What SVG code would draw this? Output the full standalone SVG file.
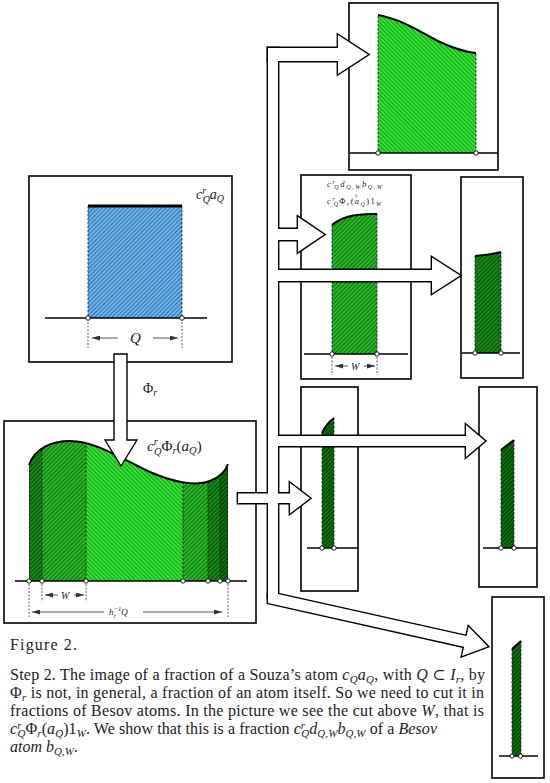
<svg xmlns="http://www.w3.org/2000/svg" width="550" height="783" viewBox="0 0 550 783">
<defs>
<style>
.box{fill:#fff;stroke:#000;stroke-width:1.6}
.base{stroke:#000;stroke-width:1.4;fill:none}
.pt{fill:#fff;stroke:#000;stroke-width:0.9}
.dash{stroke:#1a1a1a;stroke-width:0.8;stroke-dasharray:2.5 1.5;fill:none}
.cap{fill:none;stroke:#000;stroke-width:2}
.dim{stroke:#444;stroke-width:0.9;fill:none;marker-end:url(#ah)}
.vd{stroke:#333;stroke-width:0.8;stroke-dasharray:2 1.5;fill:none}
.tx{font-family:"Liberation Serif","DejaVu Serif",serif;fill:#222}
.it{font-style:italic}
.pipe-s{fill:none;stroke:#000;stroke-width:2.8;stroke-linejoin:miter}
.pipe-f{fill:#fff;stroke:none}
.arr{fill:#fff;stroke:#000;stroke-width:1.4}
</style>
<pattern id="pB" width="3" height="3" patternUnits="userSpaceOnUse" patternTransform="rotate(-45)"><rect width="3" height="3" fill="#30e430"/><line x1="0.5" y1="0" x2="0.5" y2="3" stroke="#1e9a1e" stroke-width="1"/></pattern>
<pattern id="pM" width="3" height="3" patternUnits="userSpaceOnUse" patternTransform="rotate(45)"><rect width="3" height="3" fill="#28b828"/><line x1="0.5" y1="0" x2="0.5" y2="3" stroke="#146c14" stroke-width="1"/></pattern>
<pattern id="pD" width="3" height="3" patternUnits="userSpaceOnUse" patternTransform="rotate(45)"><rect width="3" height="3" fill="#168816"/><line x1="0.5" y1="0" x2="0.5" y2="3" stroke="#075007" stroke-width="1"/></pattern>
<pattern id="pX" width="3" height="3" patternUnits="userSpaceOnUse" patternTransform="rotate(45)"><rect width="3" height="3" fill="#0a700a"/><line x1="0.5" y1="0" x2="0.5" y2="3" stroke="#033e03" stroke-width="1"/></pattern>
<pattern id="pBl" width="3" height="3" patternUnits="userSpaceOnUse" patternTransform="rotate(45)"><rect width="3" height="3" fill="#6cb6ec"/><line x1="0.5" y1="0" x2="0.5" y2="3" stroke="#2f6fae" stroke-width="1"/></pattern>
<marker id="ah" markerUnits="userSpaceOnUse" viewBox="0 0 8 5" refX="8" refY="2.5" markerWidth="8" markerHeight="5" orient="auto"><path d="M0,0 L8,2.5 L0,5 Z" fill="#333"/></marker>
<clipPath id="cl1"><path d="M29,581 L29,465 C35,448 52,441 70,441 C95,441 120,458 150,472 C170,481 195,487 210,481 C220,477 226,470 228,464 L228,581 Z"/></clipPath>
<g id="pipeShapes">
<rect x="268" y="48" width="10" height="550"/>
<polygon points="268,48 338,48 338,35 368,54.5 338,74 338,61 268,61"/>
<polygon points="276,229 298,229 298,217 324,234.5 298,252 298,240 276,240"/>
<polygon points="276,270 432,270 432,257.5 460,275.5 432,293.5 432,281 276,281"/>
<polygon points="276,436 466,436 466,425 485,441 466,457 466,446 276,446"/>
<polygon points="238,493.5 290,493.5 290,483 310,498.25 290,513.5 290,503 238,503"/>
<polygon points="278,594 466.5,636 468.6,626.8 487.7,646.4 462,656 464.1,646.8 268,603 268,594"/>
</g>
</defs>
<rect width="550" height="783" fill="#fff"/>

<g id="atom-box">
<rect class="box" x="29" y="176" width="203" height="186"/>
<rect x="88" y="206" width="94" height="112" fill="url(#pBl)"/>
<path class="dash" d="M88,206V318 M182,206V318"/>
<line x1="88" y1="206" x2="182" y2="206" stroke="#000" stroke-width="3"/>
<line class="base" x1="45" y1="318" x2="207" y2="318"/>
<circle class="pt" cx="88" cy="318" r="2.3"/><circle class="pt" cx="182" cy="318" r="2.3"/>
<path class="vd" d="M88,322V348 M182,322V348"/>
<line class="dim" x1="118" y1="338" x2="92" y2="338"/>
<line class="dim" x1="153" y1="338" x2="178" y2="338"/>
<text class="tx it" x="130" y="343" font-size="15">Q</text>
<text class="tx it" x="196" y="199" font-size="14">c<tspan font-size="10" dy="-5.5">r</tspan><tspan font-size="10" dx="-3.5" dy="9">Q</tspan><tspan dy="-3.5">a</tspan><tspan font-size="10" dy="3">Q</tspan></text>
</g>

<g id="image-box">
<rect class="box" x="4" y="421" width="252" height="202"/>
<g clip-path="url(#cl1)">
<rect x="29" y="430" width="13" height="151" fill="url(#pD)"/>
<rect x="42" y="430" width="44" height="151" fill="url(#pM)"/>
<rect x="86" y="430" width="97" height="151" fill="url(#pB)"/>
<rect x="183" y="430" width="25" height="151" fill="url(#pM)"/>
<rect x="208" y="430" width="12" height="151" fill="url(#pD)"/>
<rect x="220" y="430" width="8" height="151" fill="url(#pX)"/>
<path class="dash" d="M29.5,430V581 M42,430V581 M86,430V581 M183,430V581 M208,430V581 M220,430V581 M227.5,430V581"/>
</g>
<path class="cap" d="M29,465 C35,448 52,441 70,441 C95,441 120,458 150,472 C170,481 195,487 210,481 C220,477 226,470 228,464"/>
<line class="base" x1="15" y1="581" x2="247" y2="581"/>
<circle class="pt" cx="29" cy="581" r="2.2"/><circle class="pt" cx="42" cy="581" r="2.2"/><circle class="pt" cx="86" cy="581" r="2.2"/><circle class="pt" cx="183" cy="581" r="2.2"/><circle class="pt" cx="208" cy="581" r="2.2"/><circle class="pt" cx="220" cy="581" r="2.2"/><circle class="pt" cx="228" cy="581" r="2.2"/>
<path class="vd" d="M42,584V602 M86,584V602 M29,584V617 M228,584V617"/>
<line class="dim" x1="58" y1="595" x2="45" y2="595"/>
<line class="dim" x1="74" y1="595" x2="84" y2="595"/>
<text class="tx it" x="61" y="599" font-size="10">W</text>
<line class="dim" x1="104" y1="612" x2="32" y2="612"/>
<line class="dim" x1="143" y1="612" x2="222" y2="612"/>
<text class="tx it" x="109" y="615" font-size="9">h<tspan font-size="6.5" dy="2.5">r</tspan><tspan font-size="6.5" dx="-2.5" dy="-6.5">−1</tspan><tspan dy="4">Q</tspan></text>
<text class="tx it" x="147" y="451" font-size="15">c<tspan font-size="10.5" dy="-6.5">r</tspan><tspan font-size="10.5" dx="-3.8" dy="10">Q</tspan><tspan font-style="normal" dy="-3.5">Φ</tspan><tspan font-size="10.5" dy="3">r</tspan><tspan font-style="normal" dy="-3">(</tspan>a<tspan font-size="10.5" dy="3">Q</tspan><tspan font-style="normal" dy="-3">)</tspan></text>
</g>

<g id="box-top-right">
<rect class="box" x="349" y="3" width="149" height="167"/>
<path d="M378,153 L378,15 C405,20 425,35 440,42 C455,49 465,52 476,53 L476,153 Z" fill="url(#pB)"/>
<path class="dash" d="M378,16V153 M476,54V153"/>
<path class="cap" d="M378,15 C405,20 425,35 440,42 C455,49 465,52 476,53"/>
<line class="base" x1="350" y1="153" x2="498" y2="153"/>
<circle class="pt" cx="378" cy="153" r="2.2"/><circle class="pt" cx="476" cy="153" r="2.2"/>
</g>

<g id="box-besov">
<rect class="box" x="301" y="175" width="110" height="204"/>
<text class="tx it" x="327" y="187" font-size="8.5" textLength="55" lengthAdjust="spacing">c<tspan font-size="6" dy="-3.5">r</tspan><tspan font-size="6" dx="-2.2" dy="5.5">Q</tspan><tspan dy="-2">d</tspan><tspan font-size="6" dy="2">Q,W</tspan><tspan dy="-2">b</tspan><tspan font-size="6" dy="2">Q,W</tspan></text>
<text class="tx" x="356" y="196" font-size="7" transform="rotate(90 356 194)">=</text>
<text class="tx it" x="327" y="204" font-size="8.5" textLength="54" lengthAdjust="spacing">c<tspan font-size="6" dy="-3.5">r</tspan><tspan font-size="6" dx="-2.2" dy="5.5">Q</tspan><tspan font-style="normal" dy="-2">Φ</tspan><tspan font-size="6" dy="2">r</tspan><tspan font-style="normal" dy="-2">(</tspan>a<tspan font-size="6" dy="2">Q</tspan><tspan font-style="normal" dy="-2">)1</tspan><tspan font-size="6" dy="2">W</tspan></text>
<path d="M332,354 L332,225 Q345,213 377,214 L377,354 Z" fill="url(#pM)"/>
<path class="dash" d="M332,225V354 M377,214V354"/>
<path class="cap" d="M332,225 Q345,213 377,214"/>
<line class="base" x1="304" y1="354" x2="408" y2="354"/>
<circle class="pt" cx="332" cy="354" r="2.2"/><circle class="pt" cx="377" cy="354" r="2.2"/>
<path class="vd" d="M332,357V375 M377,357V375"/>
<line class="dim" x1="348" y1="366" x2="335" y2="366"/>
<line class="dim" x1="364" y1="366" x2="375" y2="366"/>
<text class="tx it" x="351" y="370" font-size="10">W</text>
</g>

<g id="box-small-1">
<rect class="box" x="461" y="177" width="62" height="201"/>
<path d="M475,353 L475,256 Q490,255 501,252 L501,353 Z" fill="url(#pD)"/>
<path class="dash" d="M475,256V353 M501,252V353"/>
<path class="cap" d="M475,256 Q490,255 501,252"/>
<line class="base" x1="462" y1="353" x2="520" y2="353"/>
<circle class="pt" cx="475" cy="353" r="2.2"/><circle class="pt" cx="501" cy="353" r="2.2"/>
</g>

<g id="box-small-2">
<rect class="box" x="301" y="387" width="57" height="204"/>
<path d="M322,548 L322,433 Q326,424 334,418 L334,548 Z" fill="url(#pX)"/>
<path class="dash" d="M322,433V548 M334,418V548"/>
<path class="cap" d="M322,433 Q326,424 334,418"/>
<line class="base" x1="307" y1="548" x2="358" y2="548"/>
<circle class="pt" cx="322" cy="548" r="2.2"/><circle class="pt" cx="334" cy="548" r="2.2"/>
</g>

<g id="box-small-3">
<rect class="box" x="479" y="387" width="58" height="200"/>
<path d="M501,548 L501,450 L514,440 L514,548 Z" fill="url(#pX)"/>
<path class="dash" d="M501,450V548 M514,440V548"/>
<path class="cap" d="M501,450 L514,440"/>
<line class="base" x1="483" y1="548" x2="537" y2="548"/>
<circle class="pt" cx="501" cy="548" r="2.2"/><circle class="pt" cx="514" cy="548" r="2.2"/>
</g>

<g id="box-small-4">
<rect class="box" x="492" y="597" width="52" height="181"/>
<path d="M512,756 L512,649 L521,641 L521,756 Z" fill="url(#pX)"/>
<path class="dash" d="M512,649V756 M521,641V756"/>
<path class="cap" d="M512,649 L521,641"/>
<line class="base" x1="499" y1="756" x2="538" y2="756"/>
<circle class="pt" cx="512" cy="756" r="2.1"/><circle class="pt" cx="520.5" cy="756" r="2.1"/>
</g>

<g id="connectors">
<use href="#pipeShapes" class="pipe-s"/>
<use href="#pipeShapes" class="pipe-f"/>
<polygon class="arr" points="114,354 127,354 127,440 137,440 121,466 105,440 114,440"/>
<text class="tx" x="143" y="393" font-size="14">Φ<tspan class="it" font-size="10" dy="3">r</tspan></text>
</g>

<g id="caption">
<text class="tx" x="10" y="650" font-size="16" textLength="67" lengthAdjust="spacing">Figure 2.</text>
<text class="tx" x="10" y="680" font-size="16" textLength="475" lengthAdjust="spacing">Step 2. The image of a fraction of a Souza’s atom <tspan class="it">c</tspan><tspan class="it" font-size="11" dy="3">Q</tspan><tspan class="it" dy="-3">a</tspan><tspan class="it" font-size="11" dy="3">Q</tspan><tspan dy="-3">, with </tspan><tspan class="it">Q</tspan> ⊂ <tspan class="it">I</tspan><tspan class="it" font-size="11" dy="3">r</tspan><tspan dy="-3">, by</tspan></text>
<text class="tx" x="10" y="698" font-size="16" textLength="474" lengthAdjust="spacing">Φ<tspan class="it" font-size="11" dy="3">r</tspan><tspan dy="-3"> is not, in general, a fraction of an atom itself. So we need to cut it in</tspan></text>
<text class="tx" x="10" y="716" font-size="16" textLength="474" lengthAdjust="spacing">fractions of Besov atoms. In the picture we see the cut above <tspan class="it">W</tspan>, that is</text>
<text class="tx" x="10" y="734" font-size="16" textLength="427" lengthAdjust="spacing"><tspan class="it">c</tspan><tspan class="it" font-size="11" dy="-5">r</tspan><tspan class="it" font-size="11" dx="-4" dy="8">Q</tspan><tspan dy="-3">Φ</tspan><tspan class="it" font-size="11" dy="3">r</tspan><tspan dy="-3">(</tspan><tspan class="it">a</tspan><tspan class="it" font-size="11" dy="3">Q</tspan><tspan dy="-3">)1</tspan><tspan class="it" font-size="11" dy="3">W</tspan><tspan dy="-3">. We show that this is a fraction </tspan><tspan class="it">c</tspan><tspan class="it" font-size="11" dy="-5">r</tspan><tspan class="it" font-size="11" dx="-4" dy="8">Q</tspan><tspan class="it" dy="-3">d</tspan><tspan class="it" font-size="11" dy="3">Q,W</tspan><tspan class="it" dy="-3">b</tspan><tspan class="it" font-size="11" dy="3">Q,W</tspan><tspan dy="-3"> of a </tspan><tspan class="it">Besov</tspan></text>
<text class="tx" x="10" y="752" font-size="16"><tspan class="it">atom b</tspan><tspan class="it" font-size="11" dy="3">Q,W</tspan><tspan dy="-3">.</tspan></text>
</g>
</svg>
